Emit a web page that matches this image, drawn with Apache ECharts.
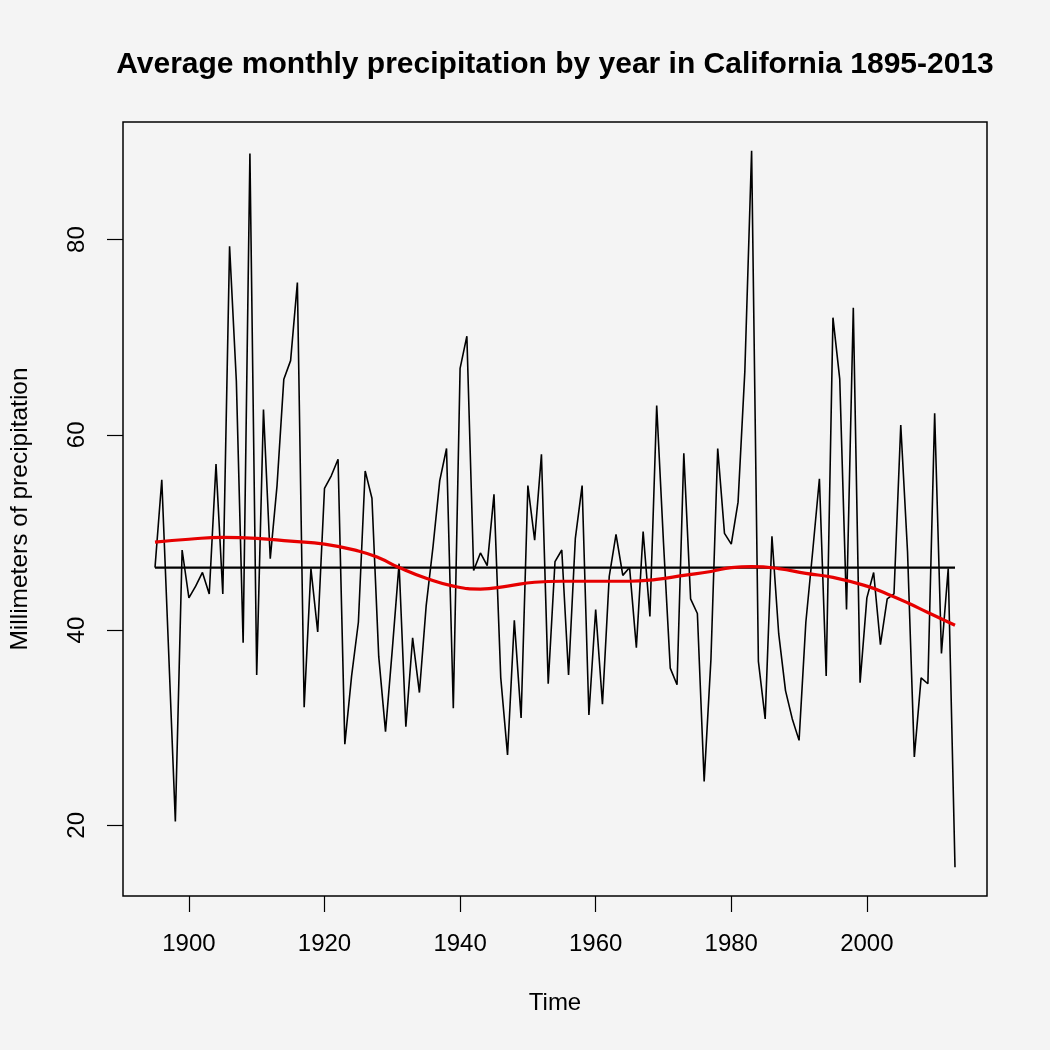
<!DOCTYPE html>
<html>
<head>
<meta charset="utf-8">
<script src="https://cdn.jsdelivr.net/npm/echarts@6/dist/echarts.min.js"></script>
<style>
  html, body { margin: 0; padding: 0; background: #f4f4f4; }
  #chart { width: 1050px; height: 1050px; }
</style>
</head>
<body>
<div id="chart"></div>
<script>
// annual values, one per year starting at firstYear
let firstYear = 1895;
let precip = [
    46.4, 55.4, 38.0, 20.4, 48.2, 43.3, 44.5, 45.9, 43.7, 57.0,   // 1895-1904
    43.7, 79.3, 65.5, 38.7, 88.8, 35.4, 62.6, 47.3, 54.8, 65.7,   // 1905-1914
    67.6, 75.6, 32.1, 46.3, 39.8, 54.5, 55.8, 57.5, 28.3, 35.3,   // 1915-1924
    40.8, 56.3, 53.5, 37.3, 29.6, 38.0, 46.8, 30.1, 39.2, 33.6,   // 1925-1934
    42.5, 48.5, 55.3, 58.6, 32.0, 66.8, 70.1, 46.1, 47.9, 46.6,   // 1935-1944
    53.9, 35.1, 27.2, 41.0, 31.0, 54.8, 49.2, 58.0, 34.5, 47.0,   // 1945-1954
    48.2, 35.4, 49.4, 54.8, 31.3, 42.1, 32.4, 45.5, 49.8, 45.6,   // 1955-1964
    46.4, 38.2, 50.1, 41.4, 63.0, 49.0, 36.1, 34.4, 58.1, 43.2,   // 1965-1974
    41.7, 24.5, 37.0, 58.6, 49.9, 48.8, 53.1, 66.5, 89.1, 36.8,   // 1975-1984
    30.9, 49.6, 39.6, 33.8, 30.9, 28.7, 40.8, 48.0, 55.5, 35.3,   // 1985-1994
    72.0, 65.7, 42.1, 73.0, 34.6, 43.3, 45.9, 38.5, 43.2, 43.7,   // 1995-2004
    61.0, 48.0, 27.0, 35.1, 34.5, 62.2, 37.6, 46.3, 15.7          // 2005-2013
];

// horizontal mean line
let meanYears = [1895, 2013];
let meanValue = 46.4;

// smoothed trend (red)
let smoothYears = [1895, 1900, 1905, 1910, 1915, 1920, 1925, 1928, 1931, 1935,
    1939, 1943, 1947, 1951, 1955, 1960, 1965, 1969, 1973, 1977,
    1980, 1983, 1987, 1991, 1995, 2000, 2003, 2006, 2009, 2013];
let smoothValues = [49.0, 49.3, 49.5, 49.4, 49.1, 48.8, 48.1, 47.4, 46.4, 45.3,
    44.5, 44.2, 44.5, 44.9, 45.0, 45.0, 45.0, 45.2, 45.6, 46.0,
    46.4, 46.5, 46.3, 45.8, 45.4, 44.5, 43.7, 42.8, 41.8, 40.5];

let xTicks = [1900, 1920, 1940, 1960, 1980, 2000];
let yTicks = [20, 40, 60, 80];

let seriesData = precip.map(function(v, i){ return [firstYear + i, v]; });
let meanData = meanYears.map(function(y){ return [y, meanValue]; });
let smoothData = smoothYears.map(function(y, i){ return [y, smoothValues[i]]; });

let font = '"Liberation Sans", Arial, Helvetica, sans-serif';

let myChart = echarts.init(document.getElementById('chart'));
let option = {
    backgroundColor: '#f4f4f4',
    animation: false,
    title: {
        text: 'Average monthly precipitation by year in California 1895-2013',
        left: 550,
        top: 45,
        textAlign: 'center',
        textStyle: {
            fontFamily: font,
            fontSize: 30,
            fontWeight: 'bold',
            color: '#000'
        }
    },
    grid: {
        left: 123,
        right: 63,
        top: 122,
        bottom: 154,
        show: true,
        borderColor: '#000',
        borderWidth: 1.5,
        backgroundColor: 'transparent'
    },
    xAxis: {
        type: 'value',
        min: 1890.28,
        max: 2017.72,
        name: 'Time',
        nameLocation: 'middle',
        nameGap: 95,
        nameTextStyle: { fontFamily: font, fontSize: 24, color: '#000' },
        axisLine: { show: false },
        splitLine: { show: false },
        axisTick: {
            show: true,
            length: 16,
            customValues: xTicks,
            lineStyle: { color: '#000', width: 1.2 }
        },
        axisLabel: {
            customValues: xTicks,
            margin: 36,
            fontFamily: font,
            fontSize: 24,
            color: '#000',
            formatter: function(v){ return String(v); }
        }
    },
    yAxis: {
        type: 'value',
        min: 12.76,
        max: 92.04,
        name: 'Millimeters of precipitation',
        nameLocation: 'middle',
        nameRotate: 90,
        nameGap: 90,
        nameTextStyle: { fontFamily: font, fontSize: 24.5, color: '#000' },
        axisLine: { show: false },
        splitLine: { show: false },
        axisTick: {
            show: true,
            length: 16,
            customValues: yTicks,
            lineStyle: { color: '#000', width: 1.2 }
        },
        axisLabel: {
            customValues: yTicks,
            rotate: 90,
            margin: 34,
            fontFamily: font,
            fontSize: 24,
            color: '#000'
        }
    },
    series: [
        {
            name: 'precip',
            type: 'line',
            data: seriesData,
            showSymbol: false,
            lineStyle: { color: '#000', width: 1.6 },
            z: 2
        },
        {
            name: 'mean',
            type: 'line',
            data: meanData,
            showSymbol: false,
            lineStyle: { color: '#000', width: 2.2 },
            z: 3
        },
        {
            name: 'trend',
            type: 'line',
            data: smoothData,
            smooth: true,
            showSymbol: false,
            lineStyle: { color: '#e60000', width: 3.2 },
            z: 4
        }
    ]
};
myChart.clear();
myChart.setOption(option);
</script>
</body>
</html>
